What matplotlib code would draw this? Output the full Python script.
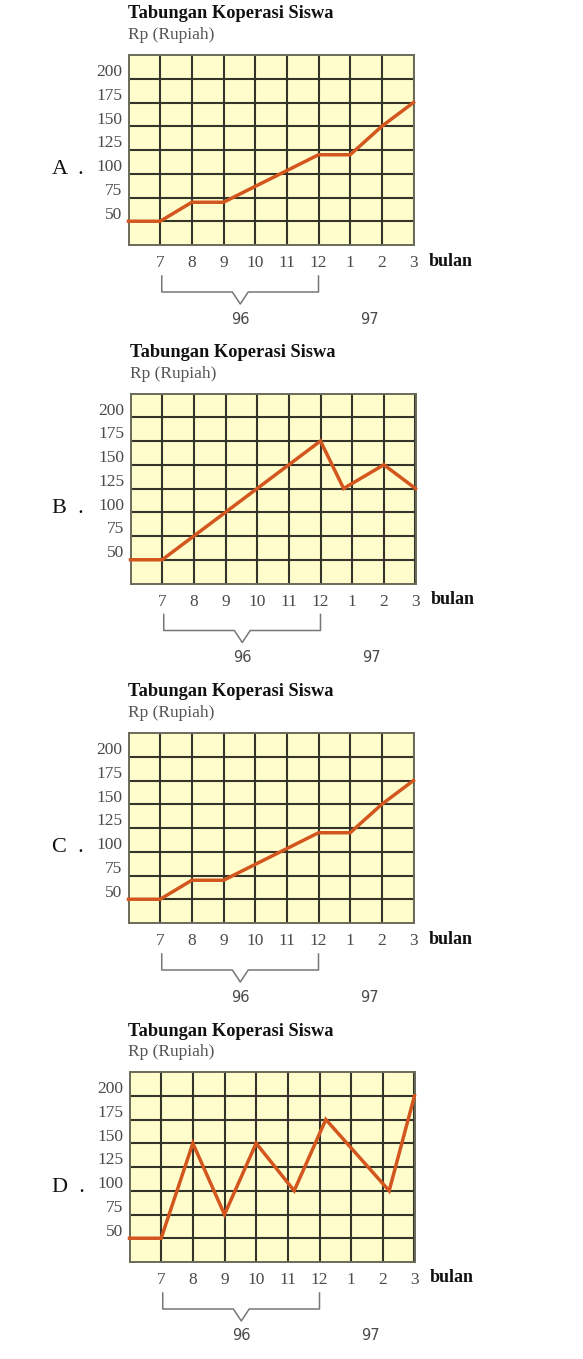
import matplotlib
matplotlib.use("Agg")
import matplotlib.pyplot as plt
import matplotlib.transforms as mtransforms

# ---- data ----
month_positions = [7, 8, 9, 10, 11, 12, 13, 14, 15]
month_labels = ["7", "8", "9", "10", "11", "12", "1", "2", "3"]
value_ticks = [50, 75, 100, 125, 150, 175, 200]
value_labels = ["50", "75", "100", "125", "150", "175", "200"]

x_A = [6, 7, 8, 9, 10, 11, 12, 13, 14, 15]
y_A = [50, 50, 70, 70, 86.7, 103.3, 120, 120, 150, 175]

x_B = [6, 7, 8, 9, 10, 11, 12, 12.73, 14, 15]
y_B = [50, 50, 75, 100, 125, 150, 175, 125, 150, 125]

x_C = [6, 7, 8, 9, 10, 11, 12, 13, 14, 15]
y_C = [50, 50, 70, 70, 86.7, 103.3, 120, 120, 150, 175]

x_D = [6, 7, 8, 9, 10, 11.2, 12.2, 14.2, 15]
y_D = [50, 50, 150, 75, 150, 100, 175, 100, 200]

panels = [("A", x_A, y_A), ("B", x_B, y_B), ("C", x_C, y_C), ("D", x_D, y_D)]
box_tops = [55, 393.5, 733, 1072]
box_lefts = [128.5, 130.5, 128.5, 129.5]

W, H = 583, 1359
BOX_W, BOX_H = 285, 190

BG = "#FEFDCB"
GRID = "#34342A"
LINE = "#D4561F"
TXT = "#4A4A4A"
SERIF = "Liberation Serif"

fig = plt.figure(figsize=(W / 100, H / 100), dpi=100)
fig.patch.set_facecolor("white")


def fx(x):
    return x / W


def fy(y):
    return 1 - y / H


for (letter, xs, ys), top, left in zip(panels, box_tops, box_lefts):
    ax = fig.add_axes([fx(left), fy(top + BOX_H), BOX_W / W, BOX_H / H])
    ax.set_facecolor(BG)
    ax.set_xlim(6, 15)
    ax.set_ylim(25, 225)

    # grid
    ax.set_xticks(month_positions)
    ax.set_xticklabels(month_labels, fontfamily=SERIF, fontsize=12.5, color=TXT)
    ax.set_yticks(value_ticks)
    ax.set_yticklabels([])
    ax.set_yticks([v + 9 for v in value_ticks], minor=True)
    ax.set_yticklabels(value_labels, minor=True, fontfamily=SERIF, fontsize=12.5, color=TXT)
    ax.tick_params(axis="x", length=0, pad=7.2)
    ax.tick_params(axis="y", which="both", length=0, pad=4.5)
    ax.grid(True, which="major", color=GRID, linewidth=1.5)
    ax.set_axisbelow(True)
    for sp in ax.spines.values():
        sp.set_color("#6A6A5A")
        sp.set_linewidth(1.4)

    ax.plot(xs, ys, color=LINE, linewidth=2.5, solid_joinstyle="miter", clip_on=False, zorder=3)

    # title texts
    fig.text(fx(left - 1), fy(top - 41), "Tabungan Koperasi Siswa", fontfamily=SERIF,
             fontweight="bold", fontsize=13.2, color="#111111", va="center", ha="left")
    fig.text(fx(left - 1), fy(top - 20), "Rp (Rupiah)", fontfamily=SERIF,
             fontsize=12.5, color="#555555", va="center", ha="left")
    fig.text(fx(52), fy(top + 115), letter + "  .", fontfamily=SERIF,
             fontsize=16, color="#111111", va="center", ha="left")
    fig.text(fx(left + 300), fy(top + BOX_H + 16), "bulan", fontfamily=SERIF,
             fontweight="bold", fontsize=13, color="#111111", va="center", ha="left")

    # bracket under months 7..12 (year 96)
    trans = mtransforms.blended_transform_factory(ax.transData, ax.transAxes)
    d1, d2, d3 = -31 / BOX_H, -47 / BOX_H, -59 / BOX_H
    mid = 9.53
    bx = [7.05, 7.05, mid - 0.25, mid, mid + 0.25, 12.0, 12.0]
    by = [d1, d2, d2, d3, d2, d2, d1]
    ax.plot(bx, by, color="#777777", linewidth=1.1, transform=trans, clip_on=False)

    ax.text(mid, -74 / BOX_H, "96", transform=trans,
            fontfamily="DejaVu Sans", fontsize=10.5, color=TXT, ha="center", va="center")
    ax.text(13.6, -74 / BOX_H, "97", transform=trans,
            fontfamily="DejaVu Sans", fontsize=10.5, color=TXT, ha="center", va="center")

fig.savefig("out.png", dpi=100, facecolor="white")
